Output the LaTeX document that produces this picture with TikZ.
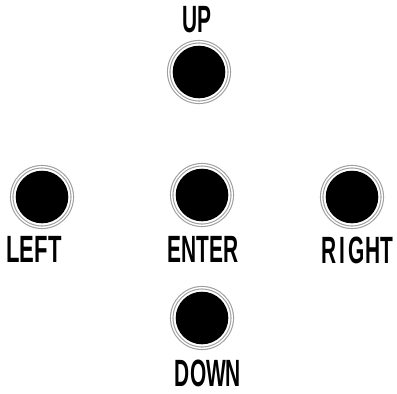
\documentclass[tikz,border=0pt]{standalone}
\usepackage{fontspec}
\setmainfont{Liberation Sans}
\usepackage{graphicx}
\begin{document}
\begin{tikzpicture}[x=1pt,y=-1pt,
  lbl/.style={inner sep=0pt,font=\bfseries\fontsize{38}{38}\selectfont},
  btn/.style={circle,minimum size=60.5pt,inner sep=0pt,
    double=white,draw=gray!75,line width=1.1pt,double distance=1.4pt,
    path picture={\fill[black] (path picture bounding box.center) circle (26.3pt);}}]
\useasboundingbox (0,0) rectangle (397,394);
\fill[white] (0,0) rectangle (397,394);
\node[btn] (up) at (199,72) {};
\node[btn] (left) at (42,197) {};
\node[btn] (enter) at (202,195) {};
\node[btn] (right) at (352,197) {};
\node[btn] (down) at (202,318) {};
\node[lbl] (tup) at (197,20) {\scalebox{0.55}[1]{UP}};
\node[lbl] (tleft) at (34,249) {\scalebox{0.58}[1]{LEFT}};
\node[lbl] (tenter) at (203,249) {\scalebox{0.55}[1]{ENTER}};
\node[lbl] (tright) at (357,250) {\scalebox{0.55}[1]{R\,I\,GHT}};
\node[lbl] (tdown) at (208,373) {\scalebox{0.55}[1]{DOWN}};
\end{tikzpicture}
\end{document}
